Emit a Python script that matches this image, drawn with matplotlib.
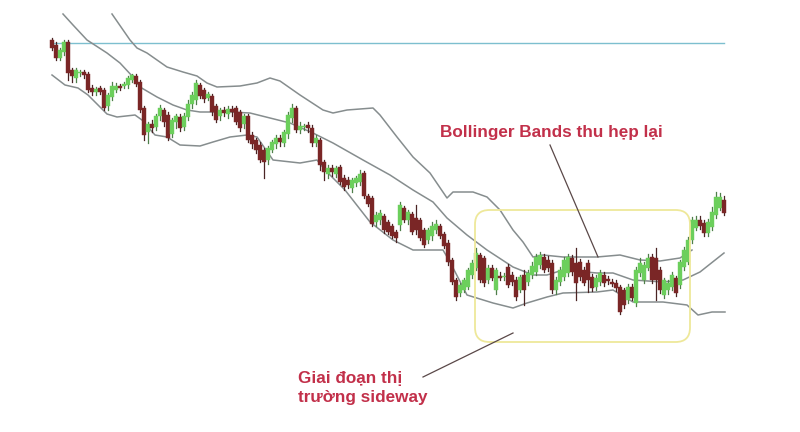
import matplotlib
matplotlib.use("Agg")
import matplotlib.pyplot as plt
from matplotlib.patches import FancyBboxPatch
import numpy as np

# candle data (price levels), one entry per bar
opens = [460, 455, 442, 448, 458, 430, 422, 427, 428, 426, 412, 408, 412, 410, 394, 403, 410, 414, 414, 415,
         420, 424, 418, 392, 368, 376, 373, 384, 390, 385, 366, 378, 383, 373, 383, 396, 400, 415, 410, 402,
         404, 394, 384, 390, 386, 391, 392, 388, 376, 384, 365, 360, 355, 350, 340, 350, 356, 362, 357, 366,
         382, 392, 370, 373, 375, 372, 357, 360, 338, 326, 332, 326, 333, 322, 320, 312, 317, 318, 327, 304,
         302, 278, 280, 284, 278, 274, 268, 275, 292, 280, 286, 282, 280, 270, 260, 264, 270, 274, 266, 257,
         240, 220, 207, 210, 213, 225, 232, 245, 242, 220, 232, 210, 224, 223, 233, 225, 220, 210, 225, 218,
         225, 228, 235, 243, 240, 237, 210, 218, 223, 227, 242, 237, 238, 230, 237, 223, 213, 218, 225, 221,
         218, 217, 213, 210, 200, 213, 197, 227, 220, 232, 243, 242, 230, 205, 210, 213, 222, 215, 233, 238,
         260, 272, 280, 277, 267, 273, 285, 292, 300]
closes = [452, 442, 450, 458, 427, 424, 430, 428, 425, 410, 408, 411, 408, 392, 405, 414, 414, 412, 416, 422,
          425, 416, 390, 365, 376, 372, 384, 392, 378, 362, 380, 384, 372, 384, 396, 405, 417, 404, 401, 406,
          388, 380, 390, 387, 391, 388, 378, 372, 384, 360, 356, 350, 340, 338, 352, 358, 362, 358, 368, 385,
          392, 370, 374, 374, 372, 357, 362, 335, 328, 332, 328, 332, 318, 313, 315, 320, 322, 326, 304, 296,
          276, 285, 287, 270, 268, 264, 262, 295, 280, 288, 268, 270, 262, 255, 270, 274, 276, 264, 254, 238,
          218, 203, 215, 220, 230, 237, 247, 220, 217, 232, 222, 230, 222, 224, 215, 218, 203, 223, 210, 227,
          234, 243, 245, 230, 232, 210, 220, 230, 240, 243, 228, 217, 223, 217, 220, 212, 222, 227, 217, 219,
          216, 212, 188, 195, 213, 202, 230, 237, 235, 242, 220, 220, 210, 220, 217, 225, 207, 238, 250, 260,
          280, 280, 274, 267, 278, 288, 303, 303, 287]
highs = [462, 458, 452, 460, 460, 432, 432, 430, 430, 428, 415, 413, 414, 412, 407, 418, 417, 416, 418, 424,
         426, 426, 420, 394, 378, 380, 386, 395, 392, 388, 382, 386, 386, 387, 400, 408, 420, 417, 412, 408,
         406, 396, 392, 393, 394, 394, 394, 390, 386, 386, 368, 362, 358, 352, 354, 360, 365, 365, 370, 388,
         396, 394, 378, 376, 378, 375, 365, 362, 340, 335, 335, 334, 335, 325, 323, 322, 324, 330, 329, 306,
         304, 288, 290, 286, 280, 276, 270, 298, 294, 290, 288, 295, 282, 272, 272, 278, 280, 276, 268, 260,
         242, 222, 217, 222, 232, 240, 252, 247, 244, 235, 235, 232, 228, 227, 236, 228, 223, 225, 230, 230,
         238, 246, 248, 246, 244, 240, 223, 233, 243, 246, 245, 252, 241, 233, 240, 226, 225, 230, 228, 224,
         221, 220, 215, 212, 216, 216, 233, 242, 238, 246, 246, 252, 233, 222, 220, 228, 224, 240, 253, 263,
         283, 284, 284, 280, 281, 293, 308, 307, 304]
lows = [450, 440, 440, 445, 420, 418, 418, 424, 422, 408, 405, 405, 406, 390, 390, 400, 408, 410, 412, 412,
        418, 414, 388, 360, 357, 368, 370, 380, 374, 360, 363, 372, 369, 370, 380, 392, 396, 402, 398, 400,
        385, 378, 380, 384, 382, 384, 376, 369, 372, 358, 352, 347, 338, 322, 336, 348, 352, 354, 354, 362,
        378, 368, 367, 370, 368, 354, 354, 330, 320, 322, 324, 323, 316, 310, 312, 308, 314, 315, 302, 294,
        274, 274, 276, 267, 266, 262, 258, 270, 278, 276, 266, 266, 260, 253, 257, 260, 267, 262, 252, 235,
        216, 200, 204, 208, 211, 222, 230, 218, 214, 217, 220, 206, 220, 220, 213, 215, 200, 208, 195, 215,
        222, 225, 232, 228, 229, 207, 206, 215, 220, 224, 225, 200, 220, 215, 208, 209, 210, 215, 214, 216,
        214, 209, 186, 192, 197, 200, 194, 224, 217, 230, 217, 200, 207, 202, 206, 210, 204, 212, 230, 236,
        257, 270, 271, 264, 264, 270, 282, 290, 285]

# Bollinger band vertices: (bar index, price)
upper_x = [15, 19.5, 21.25, 23.75, 28.75, 32.75, 36.25, 38.75, 41.25, 47, 51.25, 54.5, 57, 62, 67.75, 70.25,
           73.75, 80.25, 82, 86.25, 90.25, 94.5, 98.75, 100.25, 105.25, 108.75, 112, 115.25, 117.75, 120.25,
           122.75, 127.75, 136.25, 142, 147, 152, 157, 160]
upper_y = [486, 460, 452, 447, 433, 428, 424, 417, 413, 414, 417, 422, 419, 405, 390, 387, 390, 392, 385, 363,
           343, 327, 302, 308, 308, 303, 290, 270, 258, 243, 245, 243, 243, 245, 240, 239, 242, 250]
mid_x = [2.75, 5.25, 8.75, 13.75, 17, 20.25, 22, 26.25, 30.25, 33.75, 37, 44.5, 49.5, 54.5, 59.5, 65.25, 70.25,
         77.75, 84.5, 90.25, 95.25, 98.75, 103.75, 108.75, 115.25, 120.25, 123.75, 127.75, 136.25, 140.25,
         145.25, 152.75, 157.75, 162, 168]
mid_y = [486, 475, 460, 447, 437, 423, 413, 403, 395, 390, 388, 388, 387, 382, 377, 367, 357, 340, 325, 310,
         298, 282, 265, 250, 233, 225, 225, 230, 227, 227, 220, 218, 220, 228, 247]
lower_x = [0, 3.25, 6.5, 9, 13.75, 16.25, 20.75, 22.5, 25.75, 28.75, 32, 37, 40.25, 44.5, 48.75, 51.25, 55.25,
           62, 66.25, 68.25, 73.25, 79.5, 85.25, 90.25, 97.75, 99.5, 103.75, 110.25, 115.25, 118.75, 123.75,
           127.75, 136.25, 140.25, 145.25, 152.75, 158.75, 161.5, 165, 168.25]
lower_y = [425, 415, 412, 405, 386, 383, 385, 380, 365, 363, 355, 354, 358, 363, 365, 363, 340, 337, 340, 330,
           310, 278, 260, 250, 250, 238, 205, 197, 192, 197, 203, 207, 208, 210, 198, 198, 195, 185, 188, 188]

level_line = 457

fig = plt.figure(figsize=(8, 4.32), dpi=100)
ax = fig.add_axes([0, 0, 1, 1])
ax.set_xlim(-13, 187)
ax.set_ylim(68, 500)
ax.axis("off")

# horizontal level
ax.plot([0, 168], [level_line, level_line], color="#7dbfcf", lw=1.0, zorder=1)

# bands
for bx, by in [(upper_x, upper_y), (mid_x, mid_y), (lower_x, lower_y)]:
    ax.plot(bx, by, color="#868d8e", lw=1.1, zorder=2)

# candles
green = "#6ccf5c"
red = "#7a2626"
for i in range(len(opens)):
    o, c, h, l = opens[i], closes[i], highs[i], lows[i]
    col = green if c >= o else red
    wick = "#4f7f4a" if c >= o else "#4a2424"
    ax.plot([i, i], [l, h], color=wick, lw=0.9, zorder=3)
    ax.bar(i, abs(c - o) if abs(c - o) > 1 else 1.2, bottom=min(o, c), width=0.82,
           color=col, edgecolor=col, lw=0.3, zorder=4)

# sideway box
box = FancyBboxPatch((105.75, 158), 53.75, 132,
                     boxstyle="round,pad=0,rounding_size=3.6", mutation_aspect=4,
                     facecolor="none", edgecolor="#eee89a", lw=1.3, zorder=5)
ax.add_patch(box)

txt_color = "#c2304a"
ax.text(97, 368, "Bollinger Bands thu hẹp lại", color=txt_color, fontsize=12.3,
        fontweight="bold", family="Liberation Sans", va="center", ha="left")
ax.plot([124.5, 136.5], [355, 243], color="#5a4848", lw=0.9, zorder=6)

ax.text(61.5, 112, "Giai đoạn thị\ntrường sideway", color=txt_color, fontsize=12.3,
        fontweight="bold", family="Liberation Sans", va="center", ha="left", linespacing=1.3)
ax.plot([92.75, 115.25], [123, 167], color="#5a4848", lw=0.9, zorder=6)

fig.savefig("out.png", dpi=100, facecolor="white")
